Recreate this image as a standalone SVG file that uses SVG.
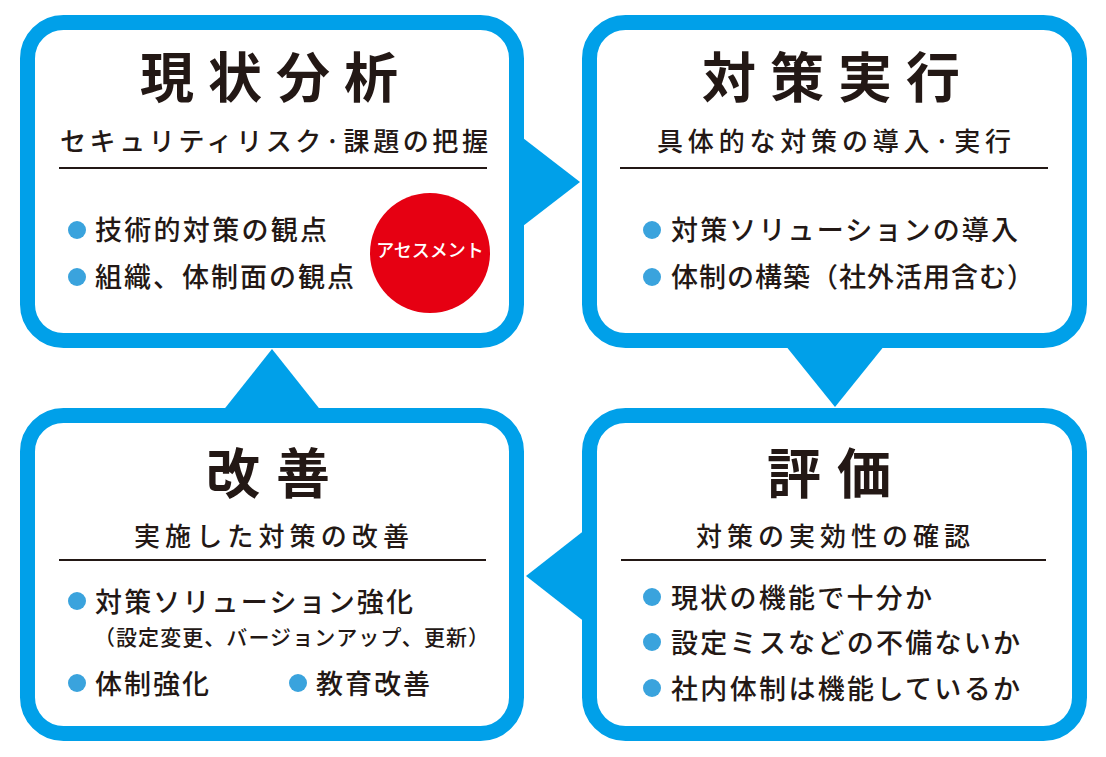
<svg xmlns="http://www.w3.org/2000/svg" width="1106" height="757" viewBox="0 0 1106 757">
<style>
.box{fill:#fff;stroke:#00a0e9;stroke-width:15}
.arrow{fill:#00a0e9}
.rule{stroke:#231815;stroke-width:2}
.dot{fill:#3aa3dd}
text{font-family:"Noto Sans CJK JP","Noto Sans CJK SC",sans-serif;fill:#231815}
.title{font-size:54px;font-weight:700}
.sub{font-size:26px;font-weight:500}
.item{font-size:27px;font-weight:500}
.small{font-size:21px;font-weight:500}
.badge{font-size:18px;font-weight:500;fill:#fff}
</style>
<rect width="1106" height="757" fill="#fff"/>
<g id="connectors">
<polygon class="arrow" points="510,128 580,182 510,236"/>
<polygon class="arrow" points="777,335 893,335 835,407"/>
<polygon class="arrow" points="595,522 595,630 526,576"/>
<polygon class="arrow" points="214,422 330,422 272,349"/>
</g>
<g id="node-genjo">
<rect class="box" x="27.5" y="22.5" width="489" height="318" rx="36"/>
<text class="title" x="140" y="98" textLength="258" lengthAdjust="spacing">現状分析</text>
<text class="sub" x="60" y="151" textLength="428" lengthAdjust="spacing">セキュリティリスク·課題の把握</text>
<line class="rule" x1="59" y1="168" x2="487" y2="168"/>
<circle class="dot" cx="77" cy="230" r="9"/>
<text class="item" x="95" y="240" textLength="232" lengthAdjust="spacing">技術的対策の観点</text>
<circle class="dot" cx="77" cy="277" r="9"/>
<text class="item" x="95" y="287" textLength="259" lengthAdjust="spacing">組織、体制面の観点</text>
<circle cx="430" cy="253" r="60" fill="#e60012"/>
<text class="badge" x="430" y="257" text-anchor="middle">アセスメント</text>
</g>
<g id="node-taisaku">
<rect class="box" x="589.5" y="22.5" width="490" height="318" rx="36"/>
<text class="title" x="702" y="98" textLength="258" lengthAdjust="spacing">対策実行</text>
<text class="sub" x="657" y="151" textLength="354" lengthAdjust="spacing">具体的な対策の導入·実行</text>
<line class="rule" x1="620" y1="168" x2="1048" y2="168"/>
<circle class="dot" cx="652" cy="230" r="9"/>
<text class="item" x="671" y="240" textLength="347" lengthAdjust="spacing">対策ソリューションの導入</text>
<circle class="dot" cx="652" cy="277" r="9"/>
<text class="item" x="671" y="287" textLength="363" lengthAdjust="spacing">体制の構築（社外活用含む）</text>
</g>
<g id="node-kaizen">
<rect class="box" x="27.5" y="415.5" width="489" height="318" rx="36"/>
<text class="title" x="206" y="494" textLength="124" lengthAdjust="spacing">改善</text>
<text class="sub" x="134" y="546" textLength="275" lengthAdjust="spacing">実施した対策の改善</text>
<line class="rule" x1="59" y1="560" x2="486" y2="560"/>
<circle class="dot" cx="77" cy="601" r="9"/>
<text class="item" x="95" y="612" textLength="318" lengthAdjust="spacing">対策ソリューション強化</text>
<text class="small" x="94" y="645" textLength="395" lengthAdjust="spacing">（設定変更、バージョンアップ、更新）</text>
<circle class="dot" cx="77" cy="683" r="9"/>
<text class="item" x="95" y="694" textLength="114" lengthAdjust="spacing">体制強化</text>
<circle class="dot" cx="298" cy="683" r="9"/>
<text class="item" x="316" y="694" textLength="114" lengthAdjust="spacing">教育改善</text>
</g>
<g id="node-hyoka">
<rect class="box" x="589.5" y="415.5" width="490" height="318" rx="36"/>
<text class="title" x="767" y="494" textLength="124" lengthAdjust="spacing">評価</text>
<text class="sub" x="696" y="546" textLength="274" lengthAdjust="spacing">対策の実効性の確認</text>
<line class="rule" x1="621" y1="560" x2="1046" y2="560"/>
<circle class="dot" cx="652" cy="597" r="9"/>
<text class="item" x="671" y="608" textLength="261" lengthAdjust="spacing">現状の機能で十分か</text>
<circle class="dot" cx="652" cy="642" r="9"/>
<text class="item" x="671" y="653" textLength="349" lengthAdjust="spacing">設定ミスなどの不備ないか</text>
<circle class="dot" cx="652" cy="688" r="9"/>
<text class="item" x="671" y="699" textLength="349" lengthAdjust="spacing">社内体制は機能しているか</text>
</g>
</svg>
